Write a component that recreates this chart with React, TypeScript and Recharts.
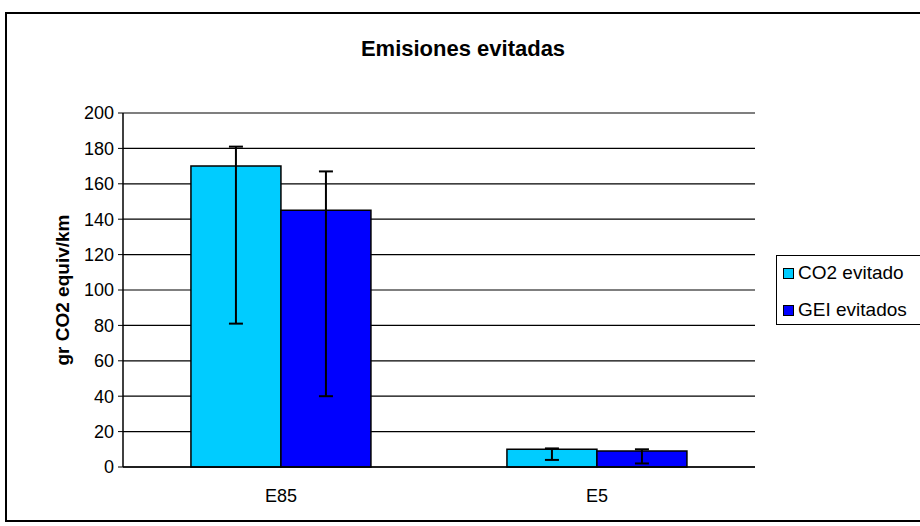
import React from 'react';
import { BarChart, Bar, XAxis, YAxis, CartesianGrid, ErrorBar, Legend } from 'recharts';

const categories = ['E85', 'E5'];
const co2Evitado = [170, 10];
const geiEvitados = [145, 9];
// [below, above] deviations
const co2Err = [[89, 11], [6, 0.5]];
const geiErr = [[105, 22], [7, 1]];
const yTicks = [0, 20, 40, 60, 80, 100, 120, 140, 160, 180, 200];

const data = categories.map((cat, i) => ({
  cat,
  co2: co2Evitado[i],
  gei: geiEvitados[i],
  co2Err: co2Err[i],
  geiErr: geiErr[i],
}));

const FONT = '"Liberation Sans", Arial, sans-serif';

const SERIES = [
  { key: 'co2', name: 'CO2 evitado', color: '#00CCFF' },
  { key: 'gei', name: 'GEI evitados', color: '#0000FF' },
];

function LegendBox() {
  return (
    <div
      style={{
        border: '1.5px solid #000',
        background: '#fff',
        width: 150,
        height: 70,
        boxSizing: 'border-box',
        padding: '3px 0 0 6px',
        fontFamily: FONT,
        fontSize: 19,
        color: '#000',
      }}
    >
      {SERIES.map((s) => (
        <div key={s.key} style={{ display: 'flex', alignItems: 'center', height: 28, marginBottom: 9 }}>
          <span
            style={{
              width: 9,
              height: 9,
              background: s.color,
              border: '1px solid #000',
              marginRight: 4,
            }}
          />
          <span>{s.name}</span>
        </div>
      ))}
    </div>
  );
}

function YLabel(props: any) {
  const vb = props.viewBox || {};
  const cy = vb.y + vb.height / 2;
  return (
    <text
      x={62}
      y={cy}
      transform={`rotate(-90, 62, ${cy})`}
      textAnchor="middle"
      dominantBaseline="central"
      fontFamily={FONT}
      fontSize={19}
      fontWeight="bold"
      fill="#000"
    >
      gr CO2 equiv/km
    </text>
  );
}

export default function App() {
  return (
    <div style={{ position: 'absolute', left: 0, top: 0, width: 920, height: 526, overflow: 'hidden', background: '#fff' }}>
      <div
        style={{
          position: 'absolute',
          left: 5,
          top: 12,
          width: 930,
          height: 510,
          border: '2px solid #000',
          boxSizing: 'border-box',
        }}
      />
      <div
        style={{
          position: 'absolute',
          left: 0,
          width: 926,
          top: 36,
          textAlign: 'center',
          fontFamily: FONT,
          fontSize: 22,
          fontWeight: 'bold',
          color: '#000',
        }}
      >
        Emisiones evitadas
      </div>
      <div style={{ position: 'absolute', left: 0, top: 0 }}>
        <BarChart
          width={920}
          height={526}
          data={data}
          margin={{ top: 113, right: 165, left: 0, bottom: 0 }}
          barCategoryGap="21.5%"
          barGap={0}
        >
          <CartesianGrid vertical={false} stroke="#000" strokeWidth={1.2} />
          <XAxis
            dataKey="cat"
            height={59}
            axisLine={{ stroke: '#000', strokeWidth: 1.5 }}
            tickLine={false}
            tickSize={6}
            tickMargin={16}
            tick={{ fill: '#000', fontFamily: FONT, fontSize: 18 }}
          />
          <YAxis
            width={123}
            domain={[0, 200]}
            ticks={yTicks}
            interval={0}
            axisLine={{ stroke: '#000', strokeWidth: 1.5 }}
            tickLine={{ stroke: '#000' }}
            tickSize={5}
            tickMargin={4}
            tick={{ fill: '#000', fontFamily: FONT, fontSize: 18 }}
            label={<YLabel />}
          />
          <YAxis
            yAxisId="r"
            orientation="right"
            width={0}
            tick={false}
            axisLine={{ stroke: '#888', strokeWidth: 1.5 }}
            domain={[0, 200]}
          />
          <Legend
            layout="horizontal"
            align="center"
            verticalAlign="middle"
            content={() => <LegendBox />}
            wrapperStyle={{ left: 776, top: 255, width: 150, height: 70 }}
          />
          {SERIES.map((s) => (
            <Bar
              key={s.key}
              dataKey={s.key}
              name={s.name}
              fill={s.color}
              stroke="#000"
              strokeWidth={1.5}
              isAnimationActive={false}
            >
              <ErrorBar
                dataKey={s.key + 'Err'}
                width={7}
                stroke="#000"
                strokeWidth={2}
                direction="y"
                isAnimationActive={false}
              />
            </Bar>
          ))}
        </BarChart>
      </div>
    </div>
  );
}
